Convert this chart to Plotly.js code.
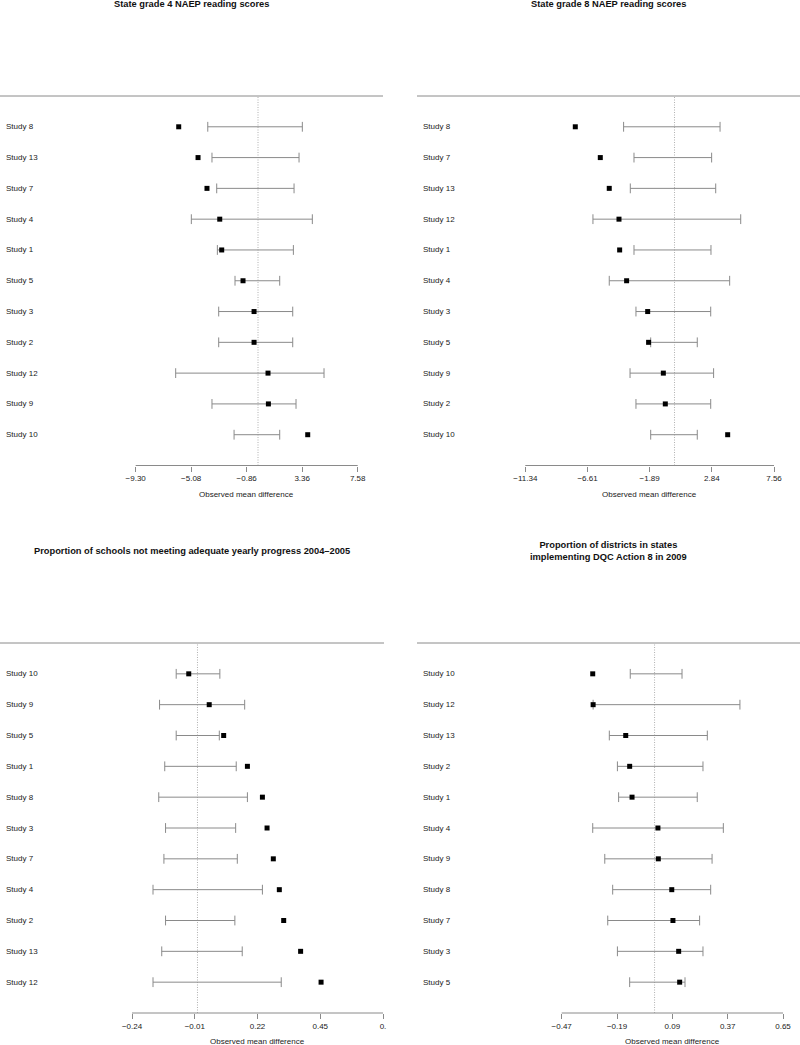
<!DOCTYPE html>
<html><head><meta charset="utf-8">
<script src="https://cdn.plot.ly/plotly-3.0.1.min.js"></script>
<style>html,body{margin:0;padding:0;background:#fff}#chart{width:800px;height:1045px}</style>
</head><body><div id="chart"></div>
<script>
// ---------- DATA ----------
const title1 = "State grade 4 NAEP reading scores";
const studies1 = ["Study 8","Study 13","Study 7","Study 4","Study 1","Study 5","Study 3","Study 2","Study 12","Study 9","Study 10"];
const est1 = [-6.03, -4.56, -3.88, -2.91, -2.76, -1.14, -0.30, -0.30, 0.76, 0.79, 3.78];
const lo1  = [-3.82, -3.50, -3.14, -5.07, -3.09, -1.75, -2.99, -2.99, -6.26, -3.50, -1.82];
const hi1  = [3.37, 3.12, 2.74, 4.13, 2.69, 1.65, 2.64, 2.64, 5.02, 2.89, 1.65];
const ticks1 = [-9.30, -5.08, -0.86, 3.36, 7.58];
const tickText1 = ["\u22129.30","\u22125.08","\u22120.86","3.36","7.58"];

const title2 = "State grade 8 NAEP reading scores";
const studies2 = ["Study 8","Study 7","Study 13","Study 12","Study 1","Study 4","Study 3","Study 5","Study 9","Study 2","Study 10"];
const est2 = [-7.54, -5.64, -4.96, -4.22, -4.17, -3.64, -2.04, -1.97, -0.85, -0.70, 4.04];
const lo2  = [-3.87, -3.08, -3.36, -6.20, -3.08, -4.96, -2.93, -1.81, -3.38, -2.93, -1.81];
const hi2  = [3.46, 2.82, 3.13, 5.03, 2.77, 4.19, 2.75, 1.73, 2.97, 2.75, 1.73];
const ticks2 = [-11.34, -6.61, -1.89, 2.84, 7.56];
const tickText2 = ["\u221211.34","\u22126.61","\u22121.89","2.84","7.56"];

const title3 = "Proportion of schools not meeting adequate yearly progress 2004\u20132005";
const studies3 = ["Study 10","Study 9","Study 5","Study 1","Study 8","Study 3","Study 7","Study 4","Study 2","Study 13","Study 12"];
const est3 = [-0.032, 0.043, 0.096, 0.183, 0.238, 0.255, 0.278, 0.300, 0.316, 0.378, 0.453];
const lo3  = [-0.078, -0.139, -0.078, -0.120, -0.142, -0.117, -0.123, -0.163, -0.117, -0.131, -0.163];
const hi3  = [0.082, 0.173, 0.080, 0.142, 0.183, 0.140, 0.146, 0.238, 0.137, 0.164, 0.307];
const ticks3 = [-0.24, -0.01, 0.22, 0.45, 0.68];
const tickText3 = ["\u22120.24","\u22120.01","0.22","0.45","0."];

const title4 = "Proportion of districts in states<br>implementing DQC Action 8 in 2009";
const studies4 = ["Study 10","Study 12","Study 13","Study 2","Study 1","Study 4","Study 9","Study 8","Study 7","Study 3","Study 5"];
const est4 = [-0.313, -0.311, -0.146, -0.126, -0.114, 0.017, 0.019, 0.087, 0.093, 0.122, 0.127];
const lo4  = [-0.123, -0.311, -0.229, -0.188, -0.182, -0.313, -0.252, -0.212, -0.237, -0.188, -0.126];
const hi4  = [0.139, 0.432, 0.267, 0.245, 0.216, 0.348, 0.291, 0.284, 0.228, 0.245, 0.154];
const ticks4 = [-0.47, -0.19, 0.09, 0.37, 0.65];
const tickText4 = ["\u22120.47","\u22120.19","0.09","0.37","0.65"];

const xTitle = "Observed mean difference";
const refValue = 0;

// ---------- LAYOUT ----------
const W = 800, H = 1045;
const FONT = '"Liberation Sans", Arial, Helvetica, sans-serif';
const GREY = '#8a8a8a';
const TXT = '#1a1a1a';

const panels = [
  {s:studies1,e:est1,lo:lo1,hi:hi1,t:ticks1,tt:tickText1,title:title1,xd:[0,383],yd:[96,465.5],tp:[135.7,357.7],ty:4.3},
  {s:studies2,e:est2,lo:lo2,hi:hi2,t:ticks2,tt:tickText2,title:title2,xd:[417,800],yd:[96,465.5],tp:[525.3,774],ty:4.3},
  {s:studies3,e:est3,lo:lo3,hi:hi3,t:ticks3,tt:tickText3,title:title3,xd:[0,384],yd:[643,1013],tp:[132,383],ty:551},
  {s:studies4,e:est4,lo:lo4,hi:hi4,t:ticks4,tt:tickText4,title:title4,xd:[417,800],yd:[643,1013],tp:[561.7,783],ty:551}
];

const data = [], shapes = [], annotations = [];
const layout = {
  width: W, height: H,
  margin: {l:0, r:0, t:0, b:0},
  paper_bgcolor: '#fff', plot_bgcolor: '#fff',
  showlegend: false,
  font: {family: FONT, size: 8, color: TXT}
};

panels.forEach((p, k) => {
  const n = k + 1;
  const xa = 'x' + (n > 1 ? n : ''), ya = 'y' + (n > 1 ? n : '');
  const xaKey = 'xaxis' + (n > 1 ? n : ''), yaKey = 'yaxis' + (n > 1 ? n : '');
  const rows = p.s.map((_, i) => i + 1);

  const lx = [], ly = [];
  p.s.forEach((_, i) => { lx.push(p.lo[i], p.hi[i], null); ly.push(rows[i], rows[i], null); });
  data.push({
    type: 'scatter', mode: 'lines+markers', x: lx, y: ly, xaxis: xa, yaxis: ya,
    line: {color: GREY, width: 1},
    marker: {symbol: 'line-ns-open', size: 7, color: GREY, line: {color: GREY, width: 1}},
    hoverinfo: 'skip', cliponaxis: false
  });
  data.push({
    type: 'scatter', mode: 'markers', x: p.e, y: rows, xaxis: xa, yaxis: ya,
    marker: {symbol: 'square', size: 5, color: '#000'},
    text: p.s, hoverinfo: 'text+x', cliponaxis: false
  });

  const nT = p.t.length;
  const s = (p.tp[1] - p.tp[0]) / (p.t[nT - 1] - p.t[0]);
  const r0 = p.t[0] - (p.tp[0] - p.xd[0]) / s;
  const r1 = p.t[nT - 1] + (p.xd[1] - p.tp[1]) / s;

  layout[xaKey] = {
    domain: [p.xd[0] / W, p.xd[1] / W], range: [r0, r1], anchor: ya,
    tickmode: 'array', tickvals: p.t, ticktext: p.tt,
    ticks: 'outside', ticklen: 5, tickwidth: 1, tickcolor: GREY,
    showline: false, showgrid: false, zeroline: false,
    tickfont: {family: FONT, size: 8, color: TXT}, fixedrange: true
  };
  layout[yaKey] = {
    domain: [1 - p.yd[1] / H, 1 - p.yd[0] / H], range: [p.s.length + 1, 0],
    anchor: xa, visible: false, fixedrange: true
  };

  // top rule
  shapes.push({type:'line', xref: xa + ' domain', yref: ya + ' domain', x0:0, x1:1, y0:1, y1:1,
    line:{color:GREY, width:1}});
  // bottom axis line spanning the ticks
  shapes.push({type:'line', xref: xa, yref: ya + ' domain', x0:p.t[0], x1:p.t[nT-1], y0:0, y1:0,
    line:{color:GREY, width:1}});
  // reference line
  shapes.push({type:'line', xref: xa, yref: ya + ' domain', x0:refValue, x1:refValue, y0:0, y1:1,
    line:{color:'#b0b0b0', width:1, dash:'1px,1.5px'}, layer:'below'});

  // study labels
  p.s.forEach((lab, i) => {
    annotations.push({text: lab, xref: xa + ' domain', yref: ya, x: 4 / (p.xd[1] - p.xd[0]), y: rows[i],
      xanchor:'left', yanchor:'middle', showarrow:false, font:{family:FONT, size:8, color:TXT}});
  });
  // axis title
  annotations.push({text: xTitle, xref: xa, yref: ya + ' domain', x: (p.t[0] + p.t[nT-1]) / 2, y: 0,
    yshift: -28.8, xanchor:'center', yanchor:'middle', showarrow:false, font:{family:FONT, size:8, color:TXT}});
  // panel title
  annotations.push({text: '<b>' + p.title.replace('<br>', '</b><br><b>') + '</b>', xref:'paper', yref:'paper',
    x: (p.xd[0] + p.xd[1]) / 2 / W, y: 1 - p.ty / H, xanchor:'center', yanchor:'middle', showarrow:false,
    font:{family:FONT, size:9.3, color:'#111'}});
});

layout.shapes = shapes;
layout.annotations = annotations;

Plotly.newPlot('chart', data, layout, {displayModeBar: false, staticPlot: true});
</script>
</body></html>
